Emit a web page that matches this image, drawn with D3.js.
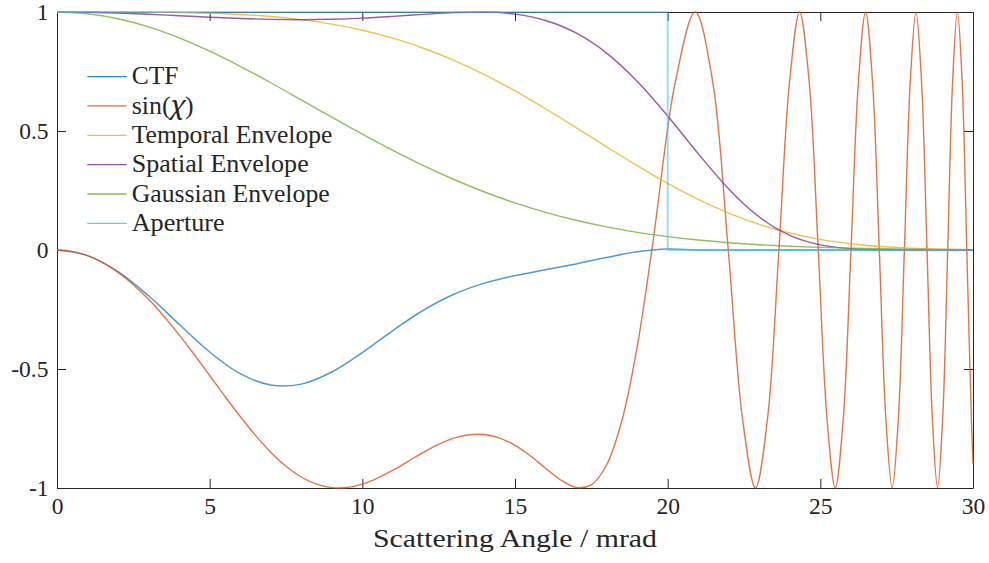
<!DOCTYPE html>
<html><head><meta charset="utf-8">
<script src="https://cdn.jsdelivr.net/npm/d3@7"></script>
<style>
body{margin:0;background:#fff;}
svg{display:block;}
svg text{font-family:'Liberation Serif','Times New Roman','DejaVu Serif',serif !important;fill:#262626;}
</style></head><body>
<svg id="chart" width="989" height="563"></svg>
<script>
// ---------- data ----------
const seriesNames = ["CTF", "sin(χ)", "Temporal Envelope", "Spatial Envelope", "Gaussian Envelope", "Aperture"];
const seriesColors = ["#0072BD", "#D95319", "#EDB120", "#7E2F8E", "#77AC30", "#4DBEEE"];

const xTicks = [0, 5, 10, 15, 20, 25, 30];
const xTickLabels = ["0", "5", "10", "15", "20", "25", "30"];
const yTicks = [-1, -0.5, 0, 0.5, 1];
const yTickLabels = ["-1", "-0.5", "0", "0.5", "1"];
const xLabel = "Scattering Angle / mrad";

// envelopes sampled at integer mrad
const envX = [0,1,2,3,4,5,6,7,8,9,10,11,12,13,14,15,16,17,18,19,20,21,22,23,24,25,26,27,28,29,30];
const temporalY = [1,1.0000,0.9999,0.9994,0.9980,0.9950,0.9897,0.9811,0.9679,0.9491,0.9235,0.8900,0.8478,0.7967,0.7365,0.6684,0.5935,0.5144,0.4336,0.3544,0.2798,0.2127,0.1549,0.1078,0.0713,0.0446,0.0263,0.0145,0.0075,0.0036,0.0016];
const spatialY = [1,0.9988,0.9955,0.9905,0.9844,0.9782,0.9727,0.9690,0.9677,0.9694,0.9742,0.9816,0.9902,0.9976,0.9998,0.9910,0.9642,0.9118,0.8274,0.7092,0.5633,0.4051,0.2566,0.1386,0.0614,0.0214,0.0056,0.0010,0.0001,0.0000,0.0000];
const gaussianY = [1,0.9928,0.9716,0.9373,0.8912,0.8353,0.7717,0.7027,0.6308,0.5581,0.4868,0.4185,0.3546,0.2962,0.2438,0.1979,0.1583,0.1248,0.0970,0.0743,0.0561,0.0418,0.0307,0.0222,0.0158,0.0111,0.0077,0.0053,0.0035,0.0023,0.0015];

// CTF
const ctfX = [0,1,2,3,4,5,6,7,8,9,10,11,12,13,14,15,16,17,18,19,20,21,22,23,24,25,26,27,28,29,30];
const ctfY = [0,-0.0235,-0.0909,-0.1924,-0.3121,-0.4287,-0.5198,-0.5675,-0.5635,-0.5127,-0.4308,-0.3383,-0.2531,-0.1861,-0.1392,-0.1076,-0.0830,-0.0584,-0.0314,-0.0076,0.0043,0,0,0,0,0,0,0,0,0,0];

// sin(chi)
const sinX = [0,0.5,1,1.5,2,2.5,3,3.5,4,4.5,5,5.5,6,6.5,7,7.5,8,8.5,9,9.5,10,10.5,11,11.5,12,12.5,13,13.5,14,14.5,15,15.5,16,16.5,17,17.5,18,18.5,19,19.5,
  20.252,20.903,21.474,21.985,22.449,22.876,23.272,23.643,23.992,24.321,24.634,24.932,25.217,25.489,25.752,26.004,26.247,26.482,26.710,26.931,27.145,27.353,27.556,27.753,27.945,28.132,28.315,28.494,28.669,28.840,29.007,29.172,29.332,29.490,29.645,29.797,29.946,30];
const sinY = [0,-0.0059,-0.0237,-0.0532,-0.0940,-0.1457,-0.2074,-0.2782,-0.3564,-0.4403,-0.5273,-0.6149,-0.6997,-0.7789,-0.8494,-0.9083,-0.9537,-0.9838,-0.9985,-0.9979,-0.9837,-0.9584,-0.9252,-0.8877,-0.8502,-0.8166,-0.7907,-0.7762,-0.7755,-0.7902,-0.8207,-0.8647,-0.9167,-0.9665,-0.9976,-0.9866,-0.9035,-0.7175,-0.4077,0.0162,
  0.7071,1,0.7071,0,-0.7071,-1,-0.7071,0,0.7071,1,0.7071,0,-0.7071,-1,-0.7071,0,0.7071,1,0.7071,0,-0.7071,-1,-0.7071,0,0.7071,1,0.7071,0,-0.7071,-1,-0.7071,0,0.7071,1,0.7071,0,-0.7071,-0.90];

// aperture
const apertureX = [0, 20, 20, 30];
const apertureY = [1, 1, 0, 0];

// ---------- layout ----------
const FONT = "'Liberation Serif','Times New Roman','DejaVu Serif',serif";
const svg = d3.select("#chart");
const L = 57, R = 973, T = 12, B = 488;
const x = d3.scaleLinear().domain([0, 30]).range([L, R]);
const y = d3.scaleLinear().domain([-1, 1]).range([B, T]);
const axisColor = "#262626";

function styleAxis(g) {
  g.attr("font-family", null).attr("font-size", null);
  g.selectAll("path.domain").attr("stroke", axisColor).attr("stroke-width", 1);
  g.selectAll(".tick line").attr("stroke", axisColor).attr("stroke-width", 1);
  g.selectAll(".tick text").style("font-family", FONT).style("font-size", "23.5px").attr("fill", axisColor);
}
const gB = svg.append("g").attr("transform", `translate(0,${B})`)
  .call(d3.axisBottom(x).tickValues(xTicks).tickFormat((d, i) => xTickLabels[i]).tickSizeInner(-9).tickSizeOuter(0).tickPadding(9));
styleAxis(gB);
const gT = svg.append("g").attr("transform", `translate(0,${T})`)
  .call(d3.axisTop(x).tickValues(xTicks).tickFormat("").tickSizeInner(-9).tickSizeOuter(0));
styleAxis(gT);
const gL = svg.append("g").attr("transform", `translate(${L},0)`)
  .call(d3.axisLeft(y).tickValues(yTicks).tickFormat((d, i) => yTickLabels[i]).tickSizeInner(-9).tickSizeOuter(0).tickPadding(8.5));
styleAxis(gL);
const gR = svg.append("g").attr("transform", `translate(${R},0)`)
  .call(d3.axisRight(y).tickValues(yTicks).tickFormat("").tickSizeInner(-9).tickSizeOuter(0));
styleAxis(gR);

// x label
svg.append("text")
  .attr("x", (L + R) / 2).attr("y", 547)
  .attr("text-anchor", "middle")
  .style("font-family", FONT).style("font-size", "25.5px")
  .attr("textLength", 284).attr("lengthAdjust", "spacingAndGlyphs")
  .text(xLabel);

// clip
svg.append("defs").append("clipPath").attr("id", "clip")
  .append("rect").attr("x", L - 1).attr("y", T - 1).attr("width", R - L + 2).attr("height", B - T + 2);
const plot = svg.append("g").attr("clip-path", "url(#clip)");

function zip(xs, ys) { return xs.map((v, i) => [v, ys[i]]); }
const smooth = d3.line().x(d => x(d[0])).y(d => y(d[1])).curve(d3.curveCatmullRom.alpha(0.5));
const mono = d3.line().x(d => x(d[0])).y(d => y(d[1])).curve(d3.curveMonotoneX);
const straight = d3.line().x(d => x(d[0])).y(d => y(d[1]));

const series = [
  { data: zip(ctfX, ctfY), gen: smooth, w: 1.5, o: 0.7 },
  { data: zip(sinX, sinY), gen: smooth, w: 1.4, o: 0.8 },
  { data: zip(envX, temporalY), gen: mono, w: 1.4, o: 0.8 },
  { data: zip(envX, spatialY), gen: mono, w: 1.4, o: 0.8 },
  { data: zip(envX, gaussianY), gen: mono, w: 1.4, o: 0.8 },
  { data: zip(apertureX, apertureY), gen: straight, w: 2, o: 0.55 }
];
series.forEach((s, i) => {
  plot.append("path")
    .attr("d", s.gen(s.data))
    .attr("fill", "none")
    .attr("stroke", seriesColors[i])
    .attr("stroke-width", s.w)
    .attr("stroke-opacity", s.o)
    .attr("stroke-linejoin", "round");
});

// legend
const legendWidths = [46.7, 62, 200.7, 177, 198, 93];
const leg = svg.append("g");
seriesNames.forEach((name, i) => {
  const ry = 76.6 + i * 29.35;
  leg.append("line").attr("x1", 87.3).attr("x2", 126.7).attr("y1", ry).attr("y2", ry)
    .attr("stroke", seriesColors[i]).attr("stroke-width", 1.3).attr("stroke-opacity", 0.85);
  const t = leg.append("text").attr("x", 131.7).attr("y", ry + 7.6)
    .style("font-family", FONT).style("font-size", "24.5px")
    .attr("textLength", legendWidths[i]).attr("lengthAdjust", "spacingAndGlyphs");
  if (name === "sin(χ)") {
    t.append("tspan").text("sin(");
    t.append("tspan").attr("font-style", "italic").style("font-family", "'Noto Serif','DejaVu Serif',serif").text("χ");
    t.append("tspan").text(")");
  } else {
    t.text(name);
  }
});
</script>
</body></html>
